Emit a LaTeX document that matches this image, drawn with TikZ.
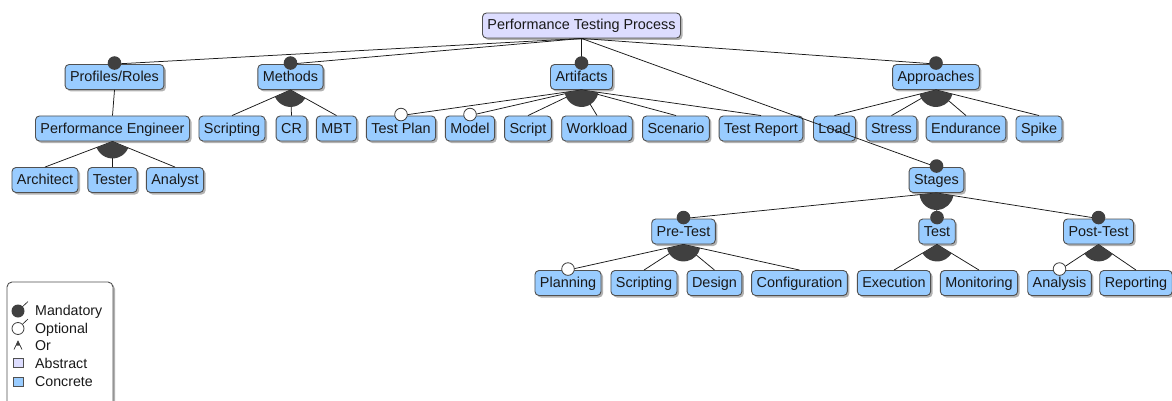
\documentclass[tikz,border=0pt]{standalone}
\usepackage{fontspec}
\setmainfont{Liberation Sans}
\usetikzlibrary{shadows,calc}
\definecolor{concretefill}{RGB}{153,204,255}
\definecolor{abstractfill}{RGB}{221,221,255}
\definecolor{boxline}{RGB}{80,80,80}
\definecolor{markfill}{RGB}{64,64,64}
\tikzset{
  feat/.style={draw=boxline, line width=0.9pt, rounded corners=4pt, fill=concretefill,
    inner xsep=5pt, inner ysep=0pt, minimum height=25pt, text height=11pt, text depth=2pt,
    font=\fontsize{14.4}{16}\selectfont, text=black!90,
    drop shadow={shadow xshift=2pt, shadow yshift=-2pt, fill=black, opacity=0.3}},
  absfeat/.style={feat, fill=abstractfill},
  edge/.style={draw=black!90, line width=0.75pt},
  mandmark/.style={fill=markfill},
  optmark/.style={fill=white, draw=markfill, line width=0.8pt},
  legendtext/.style={anchor=base west, inner sep=0pt, font=\fontsize{14.2}{16}\selectfont, text=black!90},
}
% filled sector under a parent, spanning from its first to its last child
\newcommand\orgroup[3]{%
  \fill[markfill] let \p0=(#1.south), \p1=(#2.north), \p2=(#3.north),
    \n1={atan2(\y1-\y0,\x1-\x0)}, \n2={atan2(\y2-\y0,\x2-\x0)} in
    (\p0) -- ++(\n1:17pt) arc[start angle=\n1, end angle=\n2, radius=17pt] -- cycle;}
\newcommand\mandcircle[1]{\fill[mandmark] ([yshift=1pt]#1.north) circle[radius=6.8pt];}
\newcommand\optcircle[1]{\filldraw[optmark] ([yshift=1pt]#1.north) circle[radius=6.3pt];}
\begin{document}
\begin{tikzpicture}[x=1pt,y=-1pt]
\useasboundingbox (0,0) rectangle (1172,401);
\clip (0,0) rectangle (1172,401);

% feature boxes
\node[absfeat] (root) at (581.5,25.5) {Performance Testing Process};

\node[feat] (roles) at (114.5,77) {Profiles/Roles};
\node[feat] (methods) at (290.5,77) {Methods};
\node[feat] (artifacts) at (581.5,77) {Artifacts};
\node[feat] (approaches) at (936,77) {Approaches};

\node[feat] (engineer) at (112.5,128.5) {Performance Engineer};
\node[feat] (mscripting) at (232,128.5) {Scripting};
\node[feat] (cr) at (291.5,128.5) {CR};
\node[feat] (mbt) at (336.5,128.5) {MBT};
\node[feat] (testplan) at (401,128.5) {Test Plan};
\node[feat] (model) at (470,128.5) {Model};
\node[feat] (script) at (528,128.5) {Script};
\node[feat] (workload) at (597,128.5) {Workload};
\node[feat] (scenario) at (676,128.5) {Scenario};
\node[feat] (testreport) at (761,128.5) {Test Report};
\node[feat] (load) at (834.5,128.5) {Load};
\node[feat] (stress) at (891.5,128.5) {Stress};
\node[feat] (endurance) at (966,128.5) {Endurance};
\node[feat] (spike) at (1039,128.5) {Spike};

\node[feat] (architect) at (45,180) {Architect};
\node[feat] (tester) at (112.5,180) {Tester};
\node[feat] (analyst) at (175,180) {Analyst};
\node[feat] (stages) at (936.5,180) {Stages};

\node[feat] (pretest) at (683.5,231.5) {Pre-Test};
\node[feat] (test) at (937,231.5) {Test};
\node[feat] (posttest) at (1098.5,231.5) {Post-Test};

\node[feat] (planning) at (568,283) {Planning};
\node[feat] (pscripting) at (644,283) {Scripting};
\node[feat] (design) at (714.5,283) {Design};
\node[feat] (configuration) at (799.5,283) {Configuration};
\node[feat] (execution) at (894,283) {Execution};
\node[feat] (monitoring) at (979,283) {Monitoring};
\node[feat] (analysis) at (1059.5,283) {Analysis};
\node[feat] (reporting) at (1136,283) {Reporting};

% connectors
\foreach \c in {roles,methods,artifacts,approaches,stages}
  {\draw[edge] (root.south) -- (\c.north);}
\draw[edge] (roles.south) -- (engineer.north);
\foreach \c in {architect,tester,analyst}
  {\draw[edge] (engineer.south) -- (\c.north);}
\foreach \c in {mscripting,cr,mbt}
  {\draw[edge] (methods.south) -- (\c.north);}
\foreach \c in {testplan,model,script,workload,scenario,testreport}
  {\draw[edge] (artifacts.south) -- (\c.north);}
\foreach \c in {load,stress,endurance,spike}
  {\draw[edge] (approaches.south) -- (\c.north);}
\foreach \c in {pretest,test,posttest}
  {\draw[edge] (stages.south) -- (\c.north);}
\foreach \c in {planning,pscripting,design,configuration}
  {\draw[edge] (pretest.south) -- (\c.north);}
\foreach \c in {execution,monitoring}
  {\draw[edge] (test.south) -- (\c.north);}
\foreach \c in {analysis,reporting}
  {\draw[edge] (posttest.south) -- (\c.north);}

% group arcs
\orgroup{engineer}{architect}{analyst}
\orgroup{methods}{mscripting}{mbt}
\orgroup{artifacts}{testplan}{testreport}
\orgroup{approaches}{load}{spike}
\orgroup{stages}{pretest}{posttest}
\orgroup{pretest}{planning}{configuration}
\orgroup{test}{execution}{monitoring}
\orgroup{posttest}{analysis}{reporting}

% mandatory / optional markers
\foreach \c in {roles,methods,artifacts,approaches,stages,pretest,test,posttest}
  {\mandcircle{\c}}
\foreach \c in {testplan,model,planning,analysis}
  {\optcircle{\c}}

% legend
\draw[draw=boxline, line width=0.9pt, fill=white, rounded corners=5pt,
  drop shadow={shadow xshift=2pt, shadow yshift=-2pt, fill=black, opacity=0.3}]
  (7,282) rectangle (113,430);
\coordinate (lm) at (18,311);
\coordinate (lmt) at (28,301.5);
\draw[edge, line width=0.6pt] (lm) -- (lmt);
\fill[mandmark] (lm) circle[radius=6.5pt];
\coordinate (lo) at (18,328.5);
\coordinate (lot) at (28,319);
\draw[edge, line width=0.6pt] (lo) -- (lot);
\filldraw[optmark] (lo) circle[radius=6pt];
\coordinate (lor) at (18,341);
\coordinate (lorl) at (14,349.5);
\coordinate (lorr) at (22,349.5);
\draw[edge, line width=0.6pt] (lorl) -- (lor) -- (lorr);
\fill[markfill] (lor) -- ($(lor)!0.55!(lorl)$) -- ($(lor)!0.55!(lorr)$) -- cycle;
\draw[draw=boxline, line width=0.6pt, fill=abstractfill] (13.5,358) rectangle (23,367.5);
\draw[draw=boxline, line width=0.6pt, fill=concretefill] (13.5,377) rectangle (23,386.5);
\node[legendtext] (lmand) at (35,315) {Mandatory};
\node[legendtext] (lopt) at (35,333) {Optional};
\node[legendtext] (lorname) at (35,350.5) {Or};
\node[legendtext] (labs) at (35,368.5) {Abstract};
\node[legendtext] (lcon) at (35,386.5) {Concrete};
\end{tikzpicture}
\end{document}
